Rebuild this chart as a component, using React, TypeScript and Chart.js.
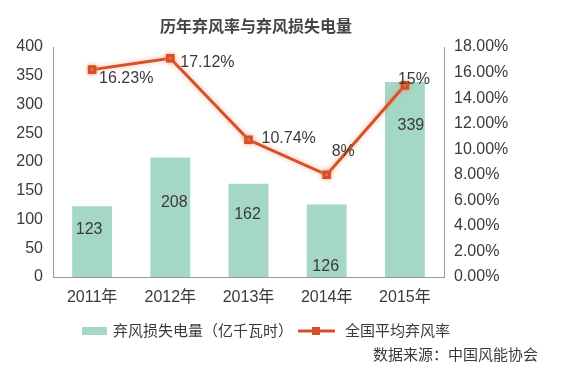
import React, { useEffect, useRef } from "react";
import { Chart, registerables } from "chart.js";

Chart.register(...registerables);

const TITLE = "历年弃风率与弃风损失电量";
const SOURCE = "数据来源：中国风能协会";
const categories = ["2011年", "2012年", "2013年", "2014年", "2015年"];
const lossValues = [123, 208, 162, 126, 339];
const rateValues = [16.23, 17.12, 10.74, 8, 15];
const rateLabels = ["16.23%", "17.12%", "10.74%", "8%", "15%"];
const lossName = "弃风损失电量（亿千瓦时）";
const rateName = "全国平均弃风率";

const FONT = '"Liberation Sans", Arial, "Noto Sans CJK SC", sans-serif';
const BAR_COLOR = "#a5d7c5";
const LINE_COLOR = "#d4502a";
const TEXT = "#3a3a3a";

// label placement offsets (pixels), not data
const barLabelOffset = [
  [-3, 23],
  [4, 45],
  [-1, 31],
  [-1, 62],
  [6, 44],
];
const lineLabelOffset = [
  [7, 9],
  [10, 4],
  [13, -1],
  [5, -23],
  [-7, -6],
];

const decorPlugin = {
  id: "decor",
  beforeDatasetDraw(chart: any, args: any) {
    if (args.index === 0) {
      const ctx = chart.ctx;
      ctx.save();
      ctx.shadowColor = "rgba(245,150,110,0.75)";
      ctx.shadowBlur = 5;
    }
  },
  afterDatasetDraw(chart: any, args: any) {
    if (args.index === 0) chart.ctx.restore();
  },
  afterDraw(chart: any) {
    const ctx = chart.ctx;
    ctx.save();
    // title
    ctx.fillStyle = "#444";
    ctx.font = `bold 16px ${FONT}`;
    ctx.textAlign = "center";
    ctx.textBaseline = "middle";
    ctx.fillText(TITLE, 256, 28);

    // bar labels
    ctx.font = `16px ${FONT}`;
    ctx.fillStyle = TEXT;
    const barMeta = chart.getDatasetMeta(1);
    barMeta.data.forEach((el: any, i: number) => {
      const o = barLabelOffset[i];
      ctx.fillText(String(lossValues[i]), el.x + o[0], el.y + o[1]);
    });
    // line labels
    ctx.textAlign = "left";
    const lineMeta = chart.getDatasetMeta(0);
    lineMeta.data.forEach((el: any, i: number) => {
      const o = lineLabelOffset[i];
      ctx.fillText(rateLabels[i], el.x + o[0], el.y + o[1]);
    });

    // legend
    ctx.fillStyle = BAR_COLOR;
    ctx.fillRect(82, 327, 25, 8);
    ctx.fillStyle = TEXT;
    ctx.font = `15px ${FONT}`;
    ctx.fillText(lossName, 113, 332);
    ctx.strokeStyle = LINE_COLOR;
    ctx.lineWidth = 3;
    ctx.beginPath();
    ctx.moveTo(298, 331);
    ctx.lineTo(335, 331);
    ctx.stroke();
    ctx.fillStyle = LINE_COLOR;
    ctx.fillRect(312, 327, 8, 8);
    ctx.fillStyle = TEXT;
    ctx.fillText(rateName, 345, 332);

    // source
    ctx.textAlign = "right";
    ctx.fillText(SOURCE, 538, 356);
    ctx.restore();
  },
};

export default function App() {
  const ref = useRef<HTMLCanvasElement>(null);
  useEffect(() => {
    if (!ref.current) return;
    const chart = new Chart(ref.current, {
      type: "bar",
      data: {
        labels: categories,
        datasets: [
          {
            type: "line",
            label: rateName,
            data: rateValues,
            yAxisID: "yR",
            borderColor: LINE_COLOR,
            backgroundColor: LINE_COLOR,
            borderWidth: 3,
            pointStyle: "rect",
            pointRadius: 4,
            tension: 0,
            order: 0,
          } as any,
          {
            type: "bar",
            label: lossName,
            data: lossValues,
            yAxisID: "yL",
            backgroundColor: BAR_COLOR,
            barPercentage: 0.51,
            categoryPercentage: 1,
            order: 1,
          },
        ],
      },
      options: {
        responsive: false,
        animation: false,
        layout: { padding: { top: 47, left: 0, right: 0, bottom: 0 } },
        plugins: {
          legend: { display: false },
          title: { display: false },
          tooltip: { enabled: false },
        },
        scales: {
          x: {
            grid: { display: false, drawTicks: false },
            border: { display: true, color: "#9a9a9a", width: 1 },
            ticks: {
              color: TEXT,
              font: { size: 16, family: FONT },
              padding: 11,
              maxRotation: 0,
            },
            afterFit: (s: any) => {
              s.height = 105;
            },
          },
          yL: {
            position: "left",
            min: 0,
            max: 400,
            ticks: {
              stepSize: 50,
              color: TEXT,
              font: { size: 16, family: FONT },
              padding: 10,
            },
            grid: { display: false, drawTicks: false },
            border: { display: true, color: "#9a9a9a", width: 1 },
            afterFit: (s: any) => {
              s.width = 53;
            },
          },
          yR: {
            position: "right",
            min: 0,
            max: 18,
            ticks: {
              stepSize: 2,
              color: TEXT,
              font: { size: 16, family: FONT },
              padding: 10,
              callback: (v: any) => Number(v).toFixed(2) + "%",
            },
            grid: { display: false, drawTicks: false },
            border: { display: true, color: "#9a9a9a", width: 1 },
            afterFit: (s: any) => {
              s.width = 117;
            },
          },
        },
      },
      plugins: [decorPlugin],
    });
    return () => chart.destroy();
  }, []);
  return (
    <div style={{ position: "fixed", left: 0, top: 0, width: 561, height: 382, background: "#fff" }}>
      <canvas ref={ref} width={561} height={382} style={{ width: 561, height: 382 }} />
    </div>
  );
}
